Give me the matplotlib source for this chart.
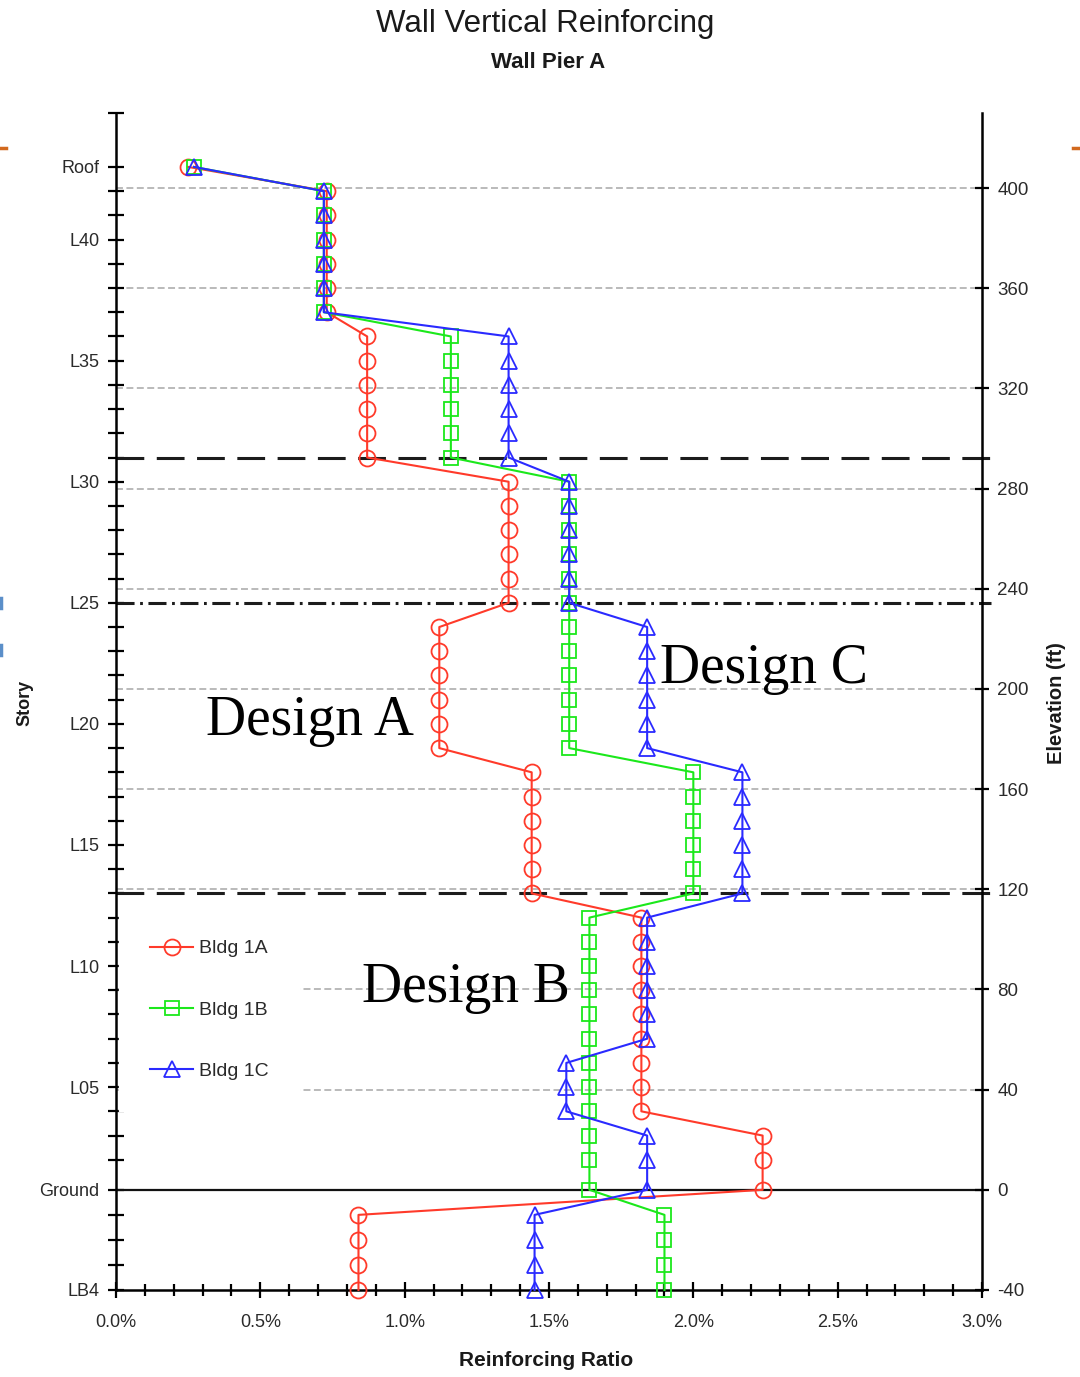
import matplotlib
matplotlib.use("Agg")
import matplotlib.pyplot as plt
from matplotlib.lines import Line2D
import numpy as np

plt.rcParams["lines.scale_dashes"] = False

# ---- story levels (bottom to top) ----
levels = ["LB4", "LB3", "LB2", "LB1", "Ground"] + [f"L{n:02d}" for n in range(2, 43)] + ["Roof"]
basement_elev = [-40.0, -30.0, -20.0, -10.0]
ground_elev = 0.0
first_story_ft = 12.0
typical_story_ft = 9.67
elevations = basement_elev + [ground_elev] + [
    first_story_ft + (n - 2) * typical_story_ft for n in range(2, 44)
]

labeled_stories = ["Roof", "L40", "L35", "L30", "L25", "L20", "L15", "L10", "L05", "Ground", "LB4"]

# ---- reinforcing ratio (%) per level, bottom to top ----
bldg_1a = [
    0.84, 0.84, 0.84, 0.84,                               # LB4-LB1
    2.24, 2.24, 2.24,                                     # Ground-L03
    1.82, 1.82, 1.82, 1.82, 1.82, 1.82, 1.82, 1.82, 1.82, # L04-L12
    1.44, 1.44, 1.44, 1.44, 1.44, 1.44,                   # L13-L18
    1.12, 1.12, 1.12, 1.12, 1.12, 1.12,                   # L19-L24
    1.36, 1.36, 1.36, 1.36, 1.36, 1.36,                   # L25-L30
    0.87, 0.87, 0.87, 0.87, 0.87, 0.87,                   # L31-L36
    0.73, 0.73, 0.73, 0.73, 0.73, 0.73,                   # L37-L42
    0.25,                                                 # Roof
]
bldg_1b = [
    1.90, 1.90, 1.90, 1.90,
    1.64, 1.64, 1.64,
    1.64, 1.64, 1.64, 1.64, 1.64, 1.64, 1.64, 1.64, 1.64,
    2.00, 2.00, 2.00, 2.00, 2.00, 2.00,
    1.57, 1.57, 1.57, 1.57, 1.57, 1.57,
    1.57, 1.57, 1.57, 1.57, 1.57, 1.57,
    1.16, 1.16, 1.16, 1.16, 1.16, 1.16,
    0.72, 0.72, 0.72, 0.72, 0.72, 0.72,
    0.27,
]
bldg_1c = [
    1.45, 1.45, 1.45, 1.45,
    1.84, 1.84, 1.84,
    1.56, 1.56, 1.56, 1.84, 1.84, 1.84, 1.84, 1.84, 1.84,
    2.17, 2.17, 2.17, 2.17, 2.17, 2.17,
    1.84, 1.84, 1.84, 1.84, 1.84, 1.84,
    1.57, 1.57, 1.57, 1.57, 1.57, 1.57,
    1.36, 1.36, 1.36, 1.36, 1.36, 1.36,
    0.72, 0.72, 0.72, 0.72, 0.72, 0.72,
    0.27,
]

series_names = ["Bldg 1A", "Bldg 1B", "Bldg 1C"]
x_ticks = [0.0, 0.5, 1.0, 1.5, 2.0, 2.5, 3.0]
elev_ticks = list(range(-40, 401, 40))

# design zone boundaries (story levels)
zone_dashed = ["L31", "L13"]
zone_dashdot = ["L25"]

design_labels = ["Design A", "Design B", "Design C"]
design_pos = [(0.672, 181.6), (1.212, 75.0), (2.245, 202.4)]

elev_of = dict(zip(levels, elevations))

RED = "#ff3a2a"
GREEN = "#1be81b"
BLUE = "#2a2aff"
TXT = "#2a2a2a"
SANS = ["Liberation Sans", "DejaVu Sans"]

fig = plt.figure(figsize=(10.8, 13.77), dpi=100)
ax = fig.add_axes([116 / 1080, 1 - 1290 / 1377, (982 - 116) / 1080, (1290 - 113) / 1377])
ax.set_xlim(0, 3.0)
ax.set_ylim(-40, 430)

# light elevation grid
for e in elev_ticks:
    if e <= 0:
        continue
    ax.axhline(e, color="#b4b4b4", lw=1.3, dashes=(5, 2.5), zorder=1)

# design zone boundaries and ground line
for s in zone_dashed:
    ax.plot([0, 3.03], [elev_of[s]] * 2, color="#1c1c1c", lw=2.2,
            dashes=(20, 9), clip_on=False, zorder=2)
for s in zone_dashdot:
    ax.plot([0, 3.03], [elev_of[s]] * 2, color="#1c1c1c", lw=2.2,
            dashes=(13, 4, 2, 4), clip_on=False, zorder=2)
ax.axhline(ground_elev, color="#111111", lw=1.6, zorder=2)

# series
styles = [(bldg_1a, RED, "o", 11.5), (bldg_1b, GREEN, "s", 10.5), (bldg_1c, BLUE, "^", 11)]
handles = []
for (vals, col, mk, ms), name in zip(styles, series_names):
    h, = ax.plot(vals, elevations, color=col, lw=1.5, marker=mk, ms=ms,
                 mfc="none", mec=col, mew=1.3, label=name, zorder=5, clip_on=False)
    handles.append(h)

leg = ax.legend(handles=handles, loc="upper left", bbox_to_anchor=(0.0035, 0.324),
                borderaxespad=0, borderpad=1.6, handlelength=2.2, handletextpad=0.3,
                labelspacing=2.25, frameon=True, facecolor="white", edgecolor="white",
                framealpha=1, fancybox=False, numpoints=1,
                prop=dict(family=SANS, size=14))
for t in leg.get_texts():
    t.set_color(TXT)
leg.set_zorder(3)

# design annotations
for lbl, (xp, yp) in zip(design_labels, design_pos):
    ax.text(xp, yp, lbl, family=["Liberation Serif", "DejaVu Serif"], size=40,
            ha="center", va="baseline", color="black", zorder=6)

# left axis: stories
ax.set_yticks([elev_of[s] for s in labeled_stories])
ax.set_yticklabels(labeled_stories)
ax.set_yticks(elevations + [430], minor=True)
ax.tick_params(axis="y", which="both", direction="inout", length=11.5, width=1.6,
               color="black", pad=6, labelsize=13, labelcolor=TXT)

# bottom axis
ax.set_xticks(x_ticks)
ax.set_xticklabels([f"{v:.1f}%" for v in x_ticks])
ax.set_xticks(np.round(np.arange(0, 3.01, 0.1), 2), minor=True)
ax.tick_params(axis="x", which="major", direction="inout", length=12, width=1.6, pad=11,
               labelsize=13, labelcolor=TXT)
ax.tick_params(axis="x", which="minor", direction="inout", length=9, width=1.6)
for lab in ax.get_xticklabels() + ax.get_yticklabels():
    lab.set_family(SANS)

for side in ["top", "right"]:
    ax.spines[side].set_visible(False)
for side in ["left", "bottom"]:
    ax.spines[side].set_linewidth(1.8)

# right axis: elevation
ax2 = ax.twinx()
ax2.set_ylim(ax.get_ylim())
ax2.set_yticks(elev_ticks)
ax2.set_yticklabels([str(v) for v in elev_ticks])
ax2.tick_params(axis="y", direction="inout", length=10, width=1.6, pad=6,
                labelsize=13.5, labelcolor=TXT)
for lab in ax2.get_yticklabels():
    lab.set_family(SANS)
for side in ["top", "left", "bottom"]:
    ax2.spines[side].set_visible(False)
ax2.spines["right"].set_linewidth(1.8)

# titles and axis labels
fig.text(545 / 1080, 1 - 24 / 1377, "Wall Vertical Reinforcing", family=SANS,
         size=22.5, ha="center", va="center", color="#1a1a1a")
fig.text(548 / 1080, 1 - 63 / 1377, "Wall Pier A", family=SANS, weight="bold",
         size=16, ha="center", va="center", color="#1a1a1a")
fig.text(546 / 1080, 1 - 1360 / 1377, "Reinforcing Ratio", family=SANS, weight="bold",
         size=15, ha="center", va="center", color="#1a1a1a")
fig.text(25 / 1080, 1 - 703 / 1377, "Story", family=SANS, weight="bold",
         size=13, ha="center", va="center", rotation=90, color="#1a1a1a")
fig.text(1057 / 1080, 1 - 703 / 1377, "Elevation (ft)", family=SANS, weight="bold",
         size=14.5, ha="center", va="center", rotation=90, color="#1a1a1a")

# slide edge marks
fig.add_artist(Line2D([0, 6 / 1080], [1 - 148 / 1377] * 2, color="#d2691e", lw=2.5))
fig.add_artist(Line2D([1073 / 1080, 1], [1 - 148 / 1377] * 2, color="#d2691e", lw=2.5))
for yy in (603, 650):
    fig.add_artist(Line2D([1 / 1080] * 2, [1 - (yy - 5) / 1377, 1 - (yy + 5) / 1377],
                          color="#5b8fc9", lw=2.5))

fig.savefig("out.png", dpi=100)
